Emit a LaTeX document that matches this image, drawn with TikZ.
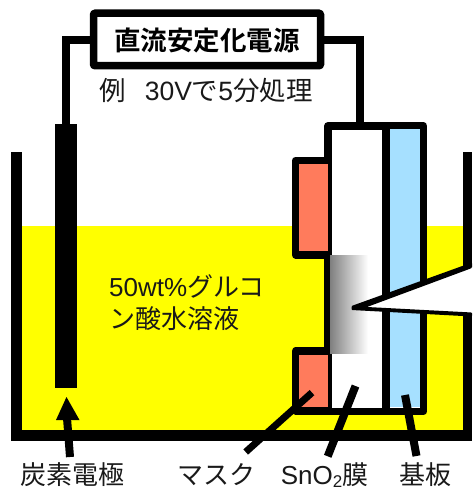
\documentclass[tikz,border=0pt]{standalone}
\usepackage{fontspec}
\setmainfont{Liberation Sans}
\newfontfamily\cjk{Noto Sans CJK JP}
\newfontfamily\cjkb{Noto Sans CJK JP Bold}
\definecolor{salmon}{HTML}{FF7B5C}
\definecolor{skyb}{HTML}{A6E0FF}
\definecolor{liq}{HTML}{FFFF00}
\tikzset{
  x=1pt,y=-1pt,
  heavy/.style={draw=black,line width=7.5pt,line join=round},
  wire/.style={draw=black,line width=7.5pt,line join=miter},
  pointer/.style={draw=black,line width=8pt},
  lab/.style={inner sep=0pt,anchor=base,text=black!90,font=\fontsize{26}{26}\selectfont},
}
\begin{document}
\begin{tikzpicture}
\useasboundingbox (0,0) rectangle (472,487);
% liquid
\fill[liq] (22,226) rectangle (463,431);
% power supply
\node[heavy,fill=white,minimum width=227pt,minimum height=52.5pt,inner sep=0pt,rounded corners=1pt] (psu) at (207,39.5) {};
\node[inner sep=0pt,font=\fontsize{26.5}{26.5}\selectfont\cjkb] (psutext) at (207,40) {直流安定化電源};
\node[lab,anchor=base,font=\fontsize{26.5}{26.5}\selectfont] (cond) at (206,100) {\cjk 例\hspace{19pt}{\rmfamily 30V}で{\rmfamily 5}分処理};
% electrode
\node[fill=black,minimum width=22pt,minimum height=264pt,inner sep=0pt] (elec) at (66,256) {};
% cell
\node[heavy,minimum width=95.5pt,minimum height=285.5pt,inner sep=0pt,fill=white] (cell) at (375.7,268.5) {};
\fill[skyb] (390,129) rectangle (420,407);
\draw[draw=black,line width=7.5pt] (386,125) -- (386,411);
% masks
\draw[heavy,fill=salmon] (327.5,160.7) -- (295.7,160.7) -- (295.7,255) -- (327.5,255);
\draw[heavy,fill=salmon] (327.5,351) -- (295.7,351) -- (295.7,411) -- (327.5,411);
% etched region
\shade[left color=black!50,right color=white] (330,255) rectangle (368,353);
% wires
\coordinate (wl) at (66,124);
\coordinate (wr) at (360,122);
\draw[wire] (psu.west |- 0,40) -| (wl);
\draw[wire] (psu.east |- 0,40) -| (wr);
% tank
\coordinate (t1) at (16.5,152);
\coordinate (t2) at (16.5,435);
\coordinate (t3) at (472,435);
\draw[draw=black,line width=11pt,line join=miter] (t1) -- (t2) -- (t3);
\fill[black] (463,152) rectangle (472,440);
% wedge
\fill[white] (354,307.5) -- (472,264) -- (472,314) -- cycle;
\fill[black,rounded corners=1pt] (351.5,306) -- (472,262.5) -- (472,268) -- (367,307) -- (472,312.5) -- (472,316.5) -- (351.5,310) -- cycle;
% pointers
\coordinate (a1) at (70,457);
\coordinate (a2) at (67,418);
\coordinate (m1) at (245.7,452);
\coordinate (m2) at (312,392.6);
\coordinate (s1) at (327.7,456.3);
\coordinate (s2) at (355.5,386);
\coordinate (k1) at (416.5,456);
\coordinate (k2) at (405,395);
\draw[pointer] (a1) -- (a2);
\fill[black] (66.5,397) -- (79.5,420) -- (56,420) -- cycle;
\draw[pointer,line width=7pt] (m1) -- (m2);
\draw[pointer] (s1) -- (s2);
\draw[pointer] (k1) -- (k2);
% labels
\node[lab,anchor=base west] (sol1) at (109,296) {50wt\%\cjk グルコ};
\node[lab,anchor=base west] (sol2) at (109,328) {\cjk ン酸水溶液};
\node[lab,anchor=base] (l1) at (72,484) {\cjk 炭素電極};
\node[lab,anchor=base] (l2) at (216,484) {\cjk マスク};
\node[lab,anchor=base] (l3) at (324.5,484) {SnO{\fontsize{17}{17}\selectfont\raisebox{-3pt}{2}}\cjk 膜};
\node[lab,anchor=base] (l4) at (425.5,484) {\cjk 基板};
\end{tikzpicture}
\end{document}
